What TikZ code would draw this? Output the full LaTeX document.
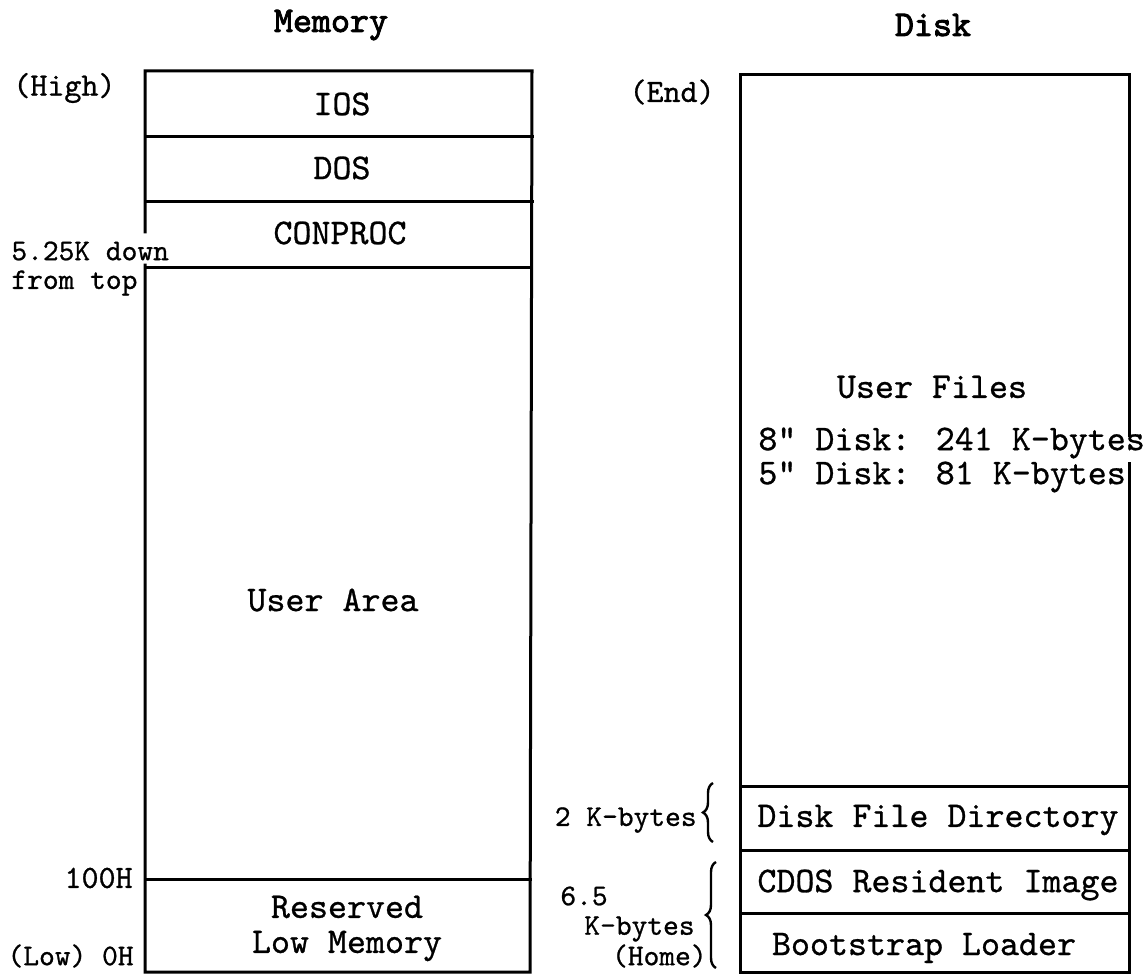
\documentclass[tikz,border=0pt]{standalone}
\usepackage{fontspec}
\newfontfamily\titlefont{lmmono10-regular.otf}[FakeBold=2.5]
\newfontfamily\bodyfont{lmmono10-regular.otf}[FakeBold=0.8]
\usetikzlibrary{decorations.pathreplacing}
\newcommand{\dq}{\symbol{34}}
\tikzset{
  boxline/.style={line width=1.5pt, line cap=rect},
  boxtext/.style={inner sep=0pt, font=\bodyfont\fontsize{18.1}{20}\selectfont},
  titletext/.style={inner sep=0pt, font=\titlefont\fontsize{18.1}{20}\selectfont},
  midlabel/.style={inner sep=0pt, font=\bodyfont\fontsize{16.2}{18}\selectfont},
  smalllabel/.style={inner sep=0pt, font=\bodyfont\fontsize{15}{17}\selectfont},
  bracestyle/.style={line width=1.2pt, decorate, decoration={brace, amplitude=5pt}}
}
\begin{document}
\begin{tikzpicture}[x=0.5pt, y=-0.5pt]
\useasboundingbox (0,0) rectangle (1147,974);
% ---------- Memory ----------
\node[titletext] (memtitle) at (331,25) {Memory};
\draw[boxline] (145,232) -- (145,71) -- (532,71) -- (530,972) -- (145,972) -- (145,265);
\draw[boxline] (145,137) -- (532,137);
\draw[boxline] (145,202) -- (532,202);
\draw[boxline] (145,267) -- (531,267);
\draw[boxline] (145,879) -- (530,879);
\node[boxtext] (ios) at (342,104) {IOS};
\node[boxtext] (dos) at (342,168) {DOS};
\node[boxtext] (conproc) at (340,233) {CONPROC};
\node[boxtext] (userarea) at (333,600) {User Area};
\node[boxtext] (reserved) at (347,907) {Reserved};
\node[boxtext] (lowmem) at (347,946) {Low Memory};
\node[midlabel, anchor=west] (high) at (13,88) {(High)};
\node[smalllabel, anchor=west] (down) at (11,251) {5.25K down};
\node[smalllabel, anchor=west] (fromtop) at (11,283) {from top};
\node[midlabel, anchor=east] (h100) at (133,878) {100H};
\node[smalllabel, anchor=east] (low) at (134,956) {(Low) 0H};
% ---------- Disk ----------
\node[titletext] (disktitle) at (933,25) {Disk};
\draw[boxline] (1129,435) -- (1129,75) -- (740,75) -- (740,972) -- (1129,972) -- (1129,463);
\draw[boxline] (740,786) -- (1129,786);
\draw[boxline] (740,850) -- (1129,850);
\draw[boxline] (740,913) -- (1129,913);
\node[midlabel, anchor=east] (end) at (715,92) {(End)};
\node[boxtext] (userfiles) at (932,387) {User Files};
\node[boxtext, anchor=west] (d8) at (758,443) {8\dq{} Disk: 241 K-bytes};
\node[boxtext, anchor=west] (d5) at (758,477) {5\dq{} Disk: 81 K-bytes};
\node[boxtext] (dfd) at (938,820) {Disk File Directory};
\node[boxtext] (cdos) at (938,885) {CDOS Resident Image};
\node[boxtext] (boot) at (924,948) {Bootstrap Loader};
\node[smalllabel, anchor=east] (twok) at (697,820) {2 K-bytes};
\node[smalllabel, anchor=west] (sixfive) at (560,896) {6.5};
\node[smalllabel, anchor=east] (kbytes) at (695,929) {K-bytes};
\node[smalllabel, anchor=east] (home) at (707,956) {(Home)};
\coordinate (b1top) at (713,783);
\coordinate (b1bot) at (713,842);
\coordinate (b2top) at (716,862);
\coordinate (b2bot) at (716,968);
\draw[bracestyle] (b1bot) -- (b1top);
\draw[bracestyle] (b2bot) -- (b2top);
\end{tikzpicture}
\end{document}
